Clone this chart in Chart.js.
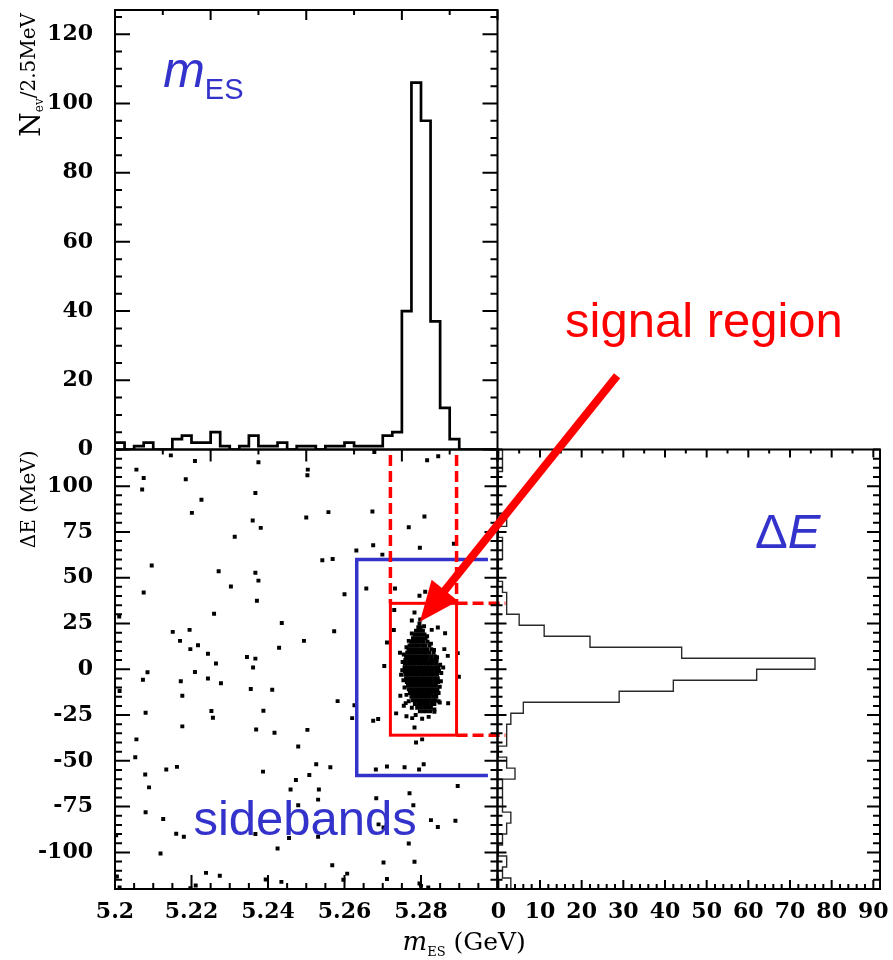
<!DOCTYPE html>
<html>
<head>
<meta charset="utf-8">
<script src="https://cdn.jsdelivr.net/npm/chart.js@4.4.1/dist/chart.umd.min.js"></script>
<style>
  html, body { margin: 0; background: #fff; }
  canvas { display: block; }
</style>
</head>
<body>
<canvas id="chartB" width="893" height="960"></canvas>
<script>
// mES projection: 40 bins of 2.5 MeV between 5.20 and 5.30 GeV
const mesBinLo = 5.2;
const mesBinWidth = 0.0025;
const mesCounts = [2,0,1,2,0,0,3,4,2,2, 5,1,0,1,4,1,1,2,0,1, 1,0,1,1,2,1,1,1,4,5, 40,106,95,37,12,3,0,0,0,0];

// ΔE projection: 40 bins of 6 MeV, from +120 MeV downwards
const deBinHi = 120;
const deBinWidth = 6;
const deCounts = [1,1,0,0,0,0,2,0,1,1, 0,0,1,2,2,5,11,22,44,76, 62,42,29,6,3,2,2,0,2,4, 1,1,1,3,2,1,0,2,1,3];

// axis labels
const mesTicks = [5.2, 5.22, 5.24, 5.26, 5.28];
const countTicks = [0, 10, 20, 30, 40, 50, 60, 70, 80, 90];
const nTicks = [0, 20, 40, 60, 80, 100, 120];
const deTicks = [-100, -75, -50, -25, 0, 25, 50, 75, 100];

// events outside the peak: [mES (GeV), ΔE (MeV)]
const bgEvents = [
  [5.2146,116.8],[5.2209,113.7],[5.2375,113.0],[5.2504,109.0],[5.2503,105.9],
  [5.2056,109.0],[5.2075,104.4],[5.2185,103.7],[5.2071,98.2],[5.2367,96.2],
  [5.2226,92.6],[5.2201,85.4],[5.2500,82.9],[5.2360,81.2],[5.2381,77.2],
  [5.2313,72.3],[5.2096,56.7],[5.2271,53.5],[5.2367,52.7],[5.2375,48.4],
  [5.2303,45.2],[5.2075,41.9],[5.2371,37.4],[5.2011,28.8],[5.2259,30.3],
  [5.2436,25.2],[5.2151,20.4],[5.2195,21.5],[5.2494,15.5],[5.2170,15.5],
  [5.2217,13.1],[5.2197,11.0],[5.2429,11.7],[5.2243,8.5],[5.2345,6.7],
  [5.2367,5.8],[5.2264,3.1],[5.2361,0.9],[5.2209,-1.5],[5.2085,-1.6],
  [5.2678,118.6],[5.2816,114.1],[5.2845,116.3],[5.2558,85.8],[5.2673,86.1],
  [5.2809,83.4],[5.2768,77.5],[5.2675,67.7],[5.2797,66.3],[5.2886,68.5],
  [5.2631,64.8],[5.2699,62.6],[5.2542,59.5],[5.2569,60.2],[5.2600,40.9],
  [5.2657,44.1],[5.2732,44.1],[5.2811,42.3],[5.2796,40.1],[5.2573,20.8],
  [5.2730,32.3],[5.2783,31.0],[5.2776,26.6],[5.2798,27.2],[5.2729,21.4],
  [5.2844,22.8],[5.2863,19.7],[5.2711,14.6],[5.2861,11.0],[5.2870,7.3],
  [5.2896,8.8],[5.2704,1.8],[5.2899,-4.1],
  [5.2073,-5.7],[5.2172,-6.6],[5.2243,-5.1],[5.2277,-7.7],[5.2012,-11.9],
  [5.2355,-10.8],[5.2411,-11.2],[5.2176,-14.5],[5.2080,-23.8],[5.2252,-22.8],
  [5.2256,-26.5],[5.2388,-22.7],[5.2176,-31.2],[5.2369,-32.9],[5.2417,-34.7],
  [5.2503,-33.1],[5.2056,-38.3],[5.2479,-42.2],[5.2053,-48.0],[5.2162,-53.3],
  [5.2134,-54.8],[5.2079,-57.5],[5.2387,-55.9],[5.2473,-60.5],[5.2089,-64.5],
  [5.2459,-65.7],[5.2479,-74.3],[5.2080,-78.1],[5.2126,-81.8],[5.2003,-90.6],
  [5.2160,-89.8],[5.2180,-91.5],[5.2367,-90.0],[5.2455,-92.2],[5.2425,-97.9],
  [5.2119,-100.6],[5.2238,-111.2],[5.2274,-112.8],[5.2005,-113.2],[5.2394,-114.8],
  [5.2435,-116.1],[5.2012,-119.2],[5.2211,-118.1],[5.2197,-119.6],
  [5.2582,-17.4],[5.2626,-19.7],[5.2620,-26.7],[5.2675,-28.1],[5.2688,-27.2],
  [5.2735,-24.1],[5.2762,-25.7],[5.2777,-26.7],[5.2835,-23.2],[5.2783,-31.8],
  [5.2787,-40.0],[5.2803,-38.3],[5.2526,-51.9],[5.2563,-53.5],[5.2508,-57.7],
  [5.2682,-54.8],[5.2711,-53.1],[5.2757,-53.5],[5.2795,-54.8],[5.2807,-51.9],
  [5.2533,-65.7],[5.2531,-71.2],[5.2683,-70.5],[5.2770,-67.7],[5.2780,-74.3],
  [5.2896,-63.7],[5.2689,-84.7],[5.2702,-86.4],[5.2826,-82.4],[5.2844,-86.2],
  [5.2890,-82.7],[5.2531,-91.5],[5.2768,-95.1],[5.2702,-105.5],[5.2783,-105.1],
  [5.2568,-107.0],[5.2607,-111.6],[5.2597,-115.0],[5.2711,-114.5],[5.2796,-117.0],
  [5.2819,-119.2],[5.2800,-118.3],
  [5.2746,-14.5],[5.2755,-19.9],[5.2849,-18.1],[5.2871,-18.6]
];

// events in the B peak
const peakEvents = [
  [5.2793,23],[5.2799,23],
  [5.2787,21],[5.2796,21],[5.2805,21],
  [5.2783,19],[5.2791,19],[5.2800,19],[5.2809,19],
  [5.2779,17],[5.2787,17],[5.2795,17],[5.2803,17],[5.2812,17],
  [5.2774,15],[5.2782,15],[5.2790,15],[5.2799,15],[5.2807,15],[5.2817,15],
  [5.2770,13],[5.2778,13],[5.2786,13],[5.2794,13],[5.2803,13],[5.2811,13],[5.2822,13],
  [5.2767,11],[5.2775,11],[5.2783,11],[5.2791,11],[5.2800,11],[5.2808,11],[5.2816,11],[5.2827,11],
  [5.2764,9],[5.2772,9],[5.2780,9],[5.2788,9],[5.2797,9],[5.2805,9],[5.2813,9],[5.2822,9],[5.2833,9],
  [5.2761,7],[5.2769,7],[5.2777,7],[5.2785,7],[5.2794,7],[5.2802,7],[5.2810,7],[5.2818,7],[5.2827,7],[5.2837,7],
  [5.2759,5],[5.2767,5],[5.2775,5],[5.2783,5],[5.2791,5],[5.2799,5],[5.2807,5],[5.2815,5],[5.2824,5],[5.2833,5],[5.2841,5],
  [5.2758,3],[5.2766,3],[5.2774,3],[5.2782,3],[5.2790,3],[5.2798,3],[5.2806,3],[5.2814,3],[5.2822,3],[5.2831,3],[5.2840,3],
  [5.2757,1],[5.2765,1],[5.2773,1],[5.2781,1],[5.2789,1],[5.2797,1],[5.2805,1],[5.2813,1],[5.2821,1],[5.2830,1],[5.2839,1],[5.2846,1],
  [5.2758,-1],[5.2766,-1],[5.2774,-1],[5.2782,-1],[5.2790,-1],[5.2798,-1],[5.2806,-1],[5.2814,-1],[5.2823,-1],[5.2831,-1],[5.2840,-1],[5.2847,-1],
  [5.2759,-3],[5.2767,-3],[5.2775,-3],[5.2783,-3],[5.2791,-3],[5.2800,-3],[5.2808,-3],[5.2816,-3],[5.2824,-3],[5.2833,-3],[5.2842,-3],
  [5.2761,-5],[5.2769,-5],[5.2777,-5],[5.2785,-5],[5.2793,-5],[5.2801,-5],[5.2809,-5],[5.2818,-5],[5.2826,-5],[5.2835,-5],[5.2844,-5],
  [5.2763,-7],[5.2771,-7],[5.2779,-7],[5.2787,-7],[5.2795,-7],[5.2803,-7],[5.2811,-7],[5.2819,-7],[5.2828,-7],[5.2837,-7],[5.2845,-7],
  [5.2766,-9],[5.2774,-9],[5.2782,-9],[5.2790,-9],[5.2798,-9],[5.2806,-9],[5.2814,-9],[5.2822,-9],[5.2830,-9],[5.2839,-9],
  [5.2768,-11],[5.2776,-11],[5.2784,-11],[5.2792,-11],[5.2800,-11],[5.2808,-11],[5.2816,-11],[5.2825,-11],[5.2834,-11],[5.2843,-11],
  [5.2771,-13],[5.2779,-13],[5.2787,-13],[5.2795,-13],[5.2803,-13],[5.2811,-13],[5.2819,-13],[5.2828,-13],[5.2837,-13],
  [5.2775,-15],[5.2783,-15],[5.2791,-15],[5.2799,-15],[5.2807,-15],[5.2815,-15],[5.2823,-15],[5.2832,-15],[5.2840,-15],
  [5.2779,-17],[5.2787,-17],[5.2796,-17],[5.2804,-17],[5.2812,-17],[5.2820,-17],[5.2829,-17],[5.2837,-17],
  [5.2784,-19],[5.2793,-19],[5.2802,-19],[5.2810,-19],[5.2818,-19],[5.2827,-19],[5.2835,-19],
  [5.2790,-21],[5.2799,-21],[5.2808,-21],[5.2817,-21],[5.2826,-21],
  [5.2797,-23],[5.2806,-23],[5.2815,-23],[5.2824,-23],
  [5.2796,25],[5.2808,23.5],[5.2776,19.5],[5.2816,18],[5.2768,15.5],[5.2826,14],[5.2762,12],[5.2834,10.5],
  [5.2755,8],[5.2842,6.5],[5.2752,4],[5.2850,2.5],[5.2751,-0.5],[5.2853,-2],[5.2754,-6],[5.2852,-6.5],
  [5.2757,-10],[5.2849,-9.5],[5.2762,-14],[5.2846,-13],[5.2768,-17.5],[5.2846,-17.5],[5.2776,-21],[5.2835,-22],
  [5.2786,-25],[5.2820,-26],[5.2803,-27],[5.2745,9],[5.2858,1],[5.2748,-3],[5.2760,-18.5],[5.2828,21.5]
];

// selection windows (mES in GeV, ΔE in MeV)
const sidebandBox = { mMin: 5.2632, mMax: 5.2975, eMin: -58, eMax: 60 };
const signalBox = { mMin: 5.2720, mMax: 5.2893, eMin: -36, eMax: 36 };

const BLUE = '#3333cc';
const RED = '#ff0000';
const SERIF = 'DejaVu Serif';
const SANS = 'Liberation Sans';

// step outline of the mES histogram
function mesOutline() {
  const pts = [];
  mesCounts.forEach((n, i) => {
    const lo = mesBinLo + i * mesBinWidth;
    pts.push({ x: lo, y: n }, { x: lo + mesBinWidth, y: n });
  });
  return pts;
}

// step outline of the ΔE histogram, drawn sideways
function deOutline() {
  const pts = [];
  deCounts.forEach((n, i) => {
    const hi = deBinHi - i * deBinWidth;
    pts.push({ x: n, y: hi }, { x: n, y: hi - deBinWidth });
  });
  return pts;
}

// fixed axis thickness, no extra padding from the end labels
function fixSize(prop, size) {
  return (s) => {
    s[prop] = size;
    s.paddingTop = s.paddingBottom = s.paddingLeft = s.paddingRight = 0;
  };
}

function axis(axisId, position, min, max, labels, pad, fit) {
  return {
    type: 'linear',
    axis: axisId,
    position,
    stack: position,
    stackWeight: 1,
    min,
    max,
    grid: { display: false, drawTicks: false },
    border: { display: false },
    ticks: {
      color: '#000',
      font: { family: SERIF, size: 22, weight: 'bold' },
      padding: pad,
      autoSkip: false,
      maxRotation: 0,
      callback: (v) => String(v)
    },
    afterBuildTicks: (s) => { s.ticks = labels.map(v => ({ value: v })); },
    afterFit: fit
  };
}

function tickRun(ctx, scale, lo, hi, step, major, fixed, dir, longLen, shortLen) {
  const n = Math.round((hi - lo) / step);
  ctx.beginPath();
  for (let k = 0; k <= n; k++) {
    const v = lo + k * step;
    const p = scale.getPixelForValue(v);
    const isMajor = Math.abs(v / major - Math.round(v / major)) < 1e-6;
    const len = isMajor ? longLen : shortLen;
    if (scale.isHorizontal()) {
      ctx.moveTo(p, fixed);
      ctx.lineTo(p, fixed + dir * len);
    } else {
      ctx.moveTo(fixed, p);
      ctx.lineTo(fixed + dir * len, p);
    }
  }
  ctx.stroke();
}

// rotated axis title made of pieces with their own font and baseline offset
function sideTitle(ctx, parts, baseX, endY) {
  let total = 0;
  parts.forEach(p => { ctx.font = p.font; p.w = ctx.measureText(p.text).width; total += p.w; });
  ctx.save();
  ctx.translate(baseX, endY + total);
  ctx.rotate(-Math.PI / 2);
  let x = 0;
  parts.forEach(p => { ctx.font = p.font; ctx.fillText(p.text, x, p.dy || 0); x += p.w; });
  ctx.restore();
}

function inlineText(ctx, parts, x, y) {
  parts.forEach(p => {
    ctx.font = p.font;
    ctx.fillText(p.text, x, y + (p.dy || 0));
    x += ctx.measureText(p.text).width;
  });
}

const panelDecor = {
  id: 'panelDecor',
  afterDatasetsDraw(chart) {
    const { ctx } = chart;
    const { xM, xC, yE, yN } = chart.scales;
    ctx.save();

    // selection windows
    const sx = (v) => xM.getPixelForValue(v);
    const sy = (v) => yE.getPixelForValue(v);
    ctx.lineCap = 'butt';
    ctx.strokeStyle = BLUE;
    ctx.lineWidth = 3.5;
    ctx.beginPath();
    ctx.moveTo(sx(sidebandBox.mMax), sy(sidebandBox.eMax));
    ctx.lineTo(sx(sidebandBox.mMin), sy(sidebandBox.eMax));
    ctx.lineTo(sx(sidebandBox.mMin), sy(sidebandBox.eMin));
    ctx.lineTo(sx(sidebandBox.mMax), sy(sidebandBox.eMin));
    ctx.stroke();

    ctx.strokeStyle = RED;
    ctx.lineWidth = 3;
    ctx.strokeRect(sx(signalBox.mMin), sy(signalBox.eMax),
      sx(signalBox.mMax) - sx(signalBox.mMin), sy(signalBox.eMin) - sy(signalBox.eMax));

    ctx.lineWidth = 3.5;
    ctx.setLineDash([11, 5]);
    ctx.beginPath();
    [signalBox.mMin, signalBox.mMax].forEach(m => {
      ctx.moveTo(sx(m), sy(117));
      ctx.lineTo(sx(m), sy(signalBox.eMax));
    });
    [signalBox.eMax, signalBox.eMin].forEach(e => {
      ctx.moveTo(sx(signalBox.mMax), sy(e));
      ctx.lineTo(xC.getPixelForValue(1.7), sy(e));
    });
    ctx.stroke();
    ctx.setLineDash([]);

    // panel frames
    ctx.strokeStyle = '#000';
    ctx.lineWidth = 2;
    ctx.strokeRect(xM.left, yN.top, xM.right - xM.left, yN.bottom - yN.top);
    ctx.strokeRect(xM.left, yE.top, xM.right - xM.left, yE.bottom - yE.top);
    ctx.strokeRect(xC.left, yE.top, xC.right - xC.left, yE.bottom - yE.top);

    // inward tick marks
    tickRun(ctx, yN, 0, 125, 5, 20, xM.left, 1, 15, 7);
    tickRun(ctx, yN, 0, 125, 5, 20, xM.right, -1, 15, 7);
    tickRun(ctx, xM, 5.2, 5.3, 0.0125, 0.025, yN.top, 1, 10, 5);
    tickRun(ctx, xM, 5.2, 5.3, 0.0125, 0.025, yN.bottom, 1, 12, 5);
    tickRun(ctx, yE, -120, 120, 5, 25, xM.left, 1, 15, 7);
    tickRun(ctx, yE, -120, 120, 5, 25, xM.right, -1, 13, 7);
    tickRun(ctx, xM, 5.2, 5.3, 0.005, 0.02, yE.bottom, -1, 14, 6);
    tickRun(ctx, yE, -120, 120, 5, 25, xC.left, 1, 9, 5);
    tickRun(ctx, yE, -120, 120, 5, 25, xC.right, -1, 13, 7);
    tickRun(ctx, xC, 0, 90, 5, 10, yE.top, 1, 8, 4);
    tickRun(ctx, xC, 0, 90, 2, 10, yE.bottom, -1, 9, 5);

    // axis titles
    ctx.fillStyle = '#000';
    ctx.textBaseline = 'alphabetic';
    sideTitle(ctx, [{ text: 'ΔE (MeV)', font: `20px "${SERIF}"` }], 35, yE.top + 1);
    sideTitle(ctx, [
      { text: 'N', font: `28px "${SERIF}"`, dy: 5 },
      { text: 'ev', font: `12px "${SERIF}"`, dy: 8 },
      { text: '/2.5MeV', font: `20px "${SERIF}"` }
    ], 35, yN.top + 3);
    inlineText(ctx, [
      { text: 'm', font: `italic 26px "${SERIF}"` },
      { text: 'ES', font: `13px "${SERIF}"`, dy: 6 },
      { text: ' (GeV)', font: `25px "${SERIF}"` }
    ], xM.right - 95, 950);

    // arrow into the signal window
    const tx = xC.getPixelForValue(28.5), ty = yN.getPixelForValue(21.3);
    const hx = xM.getPixelForValue(5.2797), hy = yE.getPixelForValue(26);
    const len = Math.hypot(hx - tx, hy - ty);
    const ux = (hx - tx) / len, uy = (hy - ty) / len;
    const headLen = 40, headHalf = 17;
    const bx = hx - ux * headLen, by = hy - uy * headLen;
    ctx.strokeStyle = RED;
    ctx.fillStyle = RED;
    ctx.lineWidth = 8;
    ctx.beginPath();
    ctx.moveTo(tx, ty);
    ctx.lineTo(bx + ux * 4, by + uy * 4);
    ctx.stroke();
    ctx.beginPath();
    ctx.moveTo(hx, hy);
    ctx.lineTo(bx - uy * headHalf, by + ux * headHalf);
    ctx.lineTo(bx + uy * headHalf, by - ux * headHalf);
    ctx.closePath();
    ctx.fill();

    // labels
    ctx.fillStyle = RED;
    ctx.font = `49px "${SANS}"`;
    ctx.fillText('signal region', xC.getPixelForValue(16.0), yN.getPixelForValue(32.6));

    ctx.fillStyle = BLUE;
    ctx.fillText('sidebands', xM.getPixelForValue(5.2205), yE.getPixelForValue(-90.5));
    inlineText(ctx, [
      { text: 'Δ', font: `49px "${SANS}"` },
      { text: 'E', font: `italic 49px "${SANS}"` }
    ], xC.getPixelForValue(61.6), yE.getPixelForValue(66.1));
    inlineText(ctx, [
      { text: 'm', font: `italic 50px "${SANS}"` },
      { text: 'ES', font: `29px "${SANS}"`, dy: 12 }
    ], xM.getPixelForValue(5.2126), yN.getPixelForValue(104.8));

    ctx.restore();
  }
};

new Chart(document.getElementById('chartB'), {
  type: 'scatter',
  data: {
    datasets: [
      {
        label: 'mES',
        data: mesOutline(),
        xAxisID: 'xM',
        yAxisID: 'yN',
        showLine: true,
        borderColor: '#000',
        borderWidth: 2.7,
        pointRadius: 0,
        tension: 0
      },
      {
        label: 'dE',
        data: deOutline(),
        xAxisID: 'xC',
        yAxisID: 'yE',
        showLine: true,
        borderColor: '#2a2a2a',
        borderWidth: 1.4,
        pointRadius: 0,
        tension: 0
      },
      {
        label: 'events',
        data: bgEvents.concat(peakEvents).map(([m, e]) => ({ x: m, y: e })),
        xAxisID: 'xM',
        yAxisID: 'yE',
        pointStyle: 'rect',
        pointRadius: 2.8,
        pointBackgroundColor: '#000',
        pointBorderWidth: 0
      }
    ]
  },
  options: {
    responsive: false,
    animation: false,
    events: [],
    layout: { padding: { top: 10, right: 13, left: 0, bottom: 0 }, autoPadding: false },
    plugins: { legend: { display: false }, tooltip: { enabled: false } },
    scales: {
      yE: axis('y', 'left', -120, 120, deTicks, 22, fixSize('width', 115)),
      yN: axis('y', 'left', 0, 127, nTicks, 22, fixSize('width', 115)),
      xM: axis('x', 'bottom', 5.2, 5.3, mesTicks, 10, fixSize('height', 71)),
      xC: axis('x', 'bottom', -0.2, 91.6, countTicks, 10, fixSize('height', 71))
    }
  },
  plugins: [panelDecor]
});
</script>
</body>
</html>
